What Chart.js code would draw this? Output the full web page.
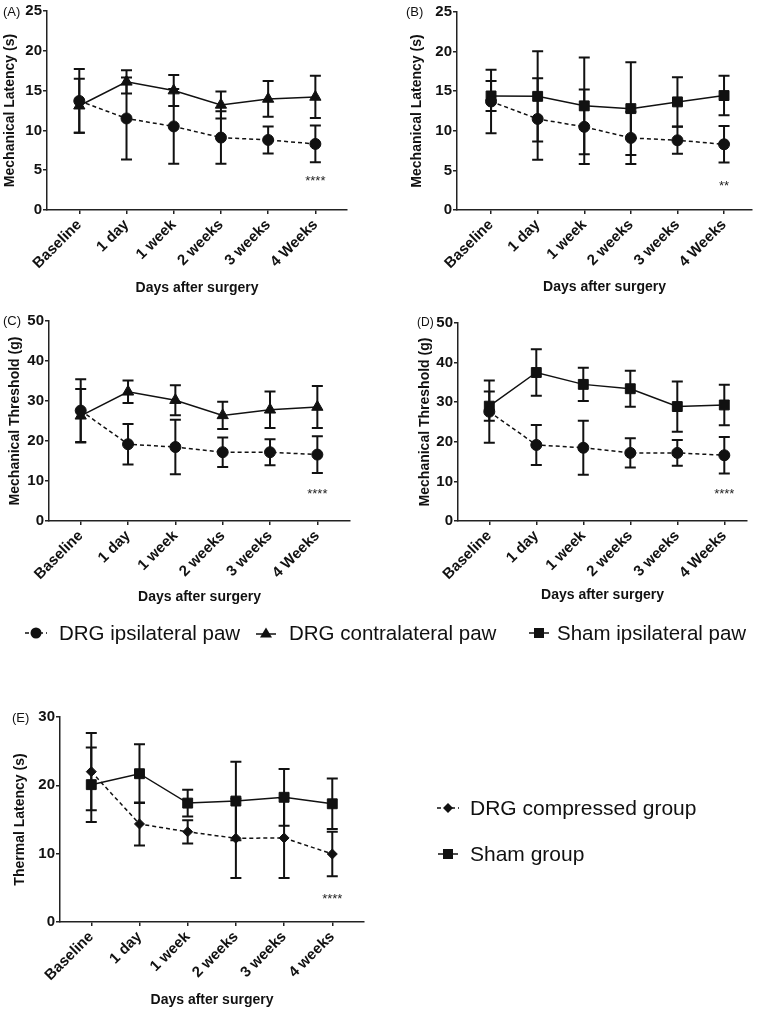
<!DOCTYPE html>
<html>
<head>
<meta charset="utf-8">
<script src="https://cdn.jsdelivr.net/npm/chart.js@4.4.1/dist/chart.umd.min.js"></script>
<style>
body { margin: 0; background: #fff; }
#fig { position: relative; width: 760px; height: 1010px; font-family: "Liberation Sans", Arial, sans-serif; color: #111; overflow: hidden; }
#fig canvas { position: absolute; left: 0; top: 0; }
.tag { position: absolute; font-size: 13px; line-height: 14px; }
.leg { position: absolute; font-size: 20.5px; line-height: 24px; white-space: nowrap; }
.mk { position: absolute; }
</style>
</head>
<body>
<div id="fig">
  <canvas id="cA" width="760" height="1010"></canvas>
  <canvas id="cB" width="760" height="1010"></canvas>
  <canvas id="cC" width="760" height="1010"></canvas>
  <canvas id="cD" width="760" height="1010"></canvas>
  <canvas id="cE" width="760" height="1010"></canvas>

  <div class="tag" style="left:3px;top:5px">(A)</div>
  <div class="tag" style="left:406px;top:5px">(B)</div>
  <div class="tag" style="left:3px;top:314px">(C)</div>
  <div class="tag" style="left:417px;top:315px;font-size:12px">(D)</div>
  <div class="tag" style="left:12px;top:711px">(E)</div>

  <svg class="mk" style="left:24px;top:626px" width="24" height="14"><line x1="1" y1="7" x2="23" y2="7" stroke="#111" stroke-width="1.5" stroke-dasharray="4,3"/><circle cx="12" cy="7" r="5.5" fill="#111"/></svg>
  <div class="leg" style="left:59px;top:621px">DRG ipsilateral paw</div>
  <svg class="mk" style="left:254px;top:626px" width="24" height="14"><line x1="2" y1="8" x2="22" y2="8" stroke="#111" stroke-width="1.5"/><polygon points="12,1.5 18,11.5 6,11.5" fill="#111"/></svg>
  <div class="leg" style="left:289px;top:621px">DRG contralateral paw</div>
  <svg class="mk" style="left:527px;top:626px" width="24" height="14"><line x1="2" y1="7" x2="22" y2="7" stroke="#111" stroke-width="1.5"/><rect x="7" y="2" width="10" height="10" fill="#111"/></svg>
  <div class="leg" style="left:557px;top:621px">Sham ipsilateral paw</div>

  <svg class="mk" style="left:436px;top:801px" width="24" height="14"><line x1="1" y1="7" x2="23" y2="7" stroke="#111" stroke-width="1.5" stroke-dasharray="4,3"/><polygon points="12,2 17,7 12,12 7,7" fill="#111"/></svg>
  <div class="leg" style="left:470px;top:796px;font-size:21px">DRG compressed group</div>
  <svg class="mk" style="left:436px;top:847px" width="24" height="14"><line x1="2" y1="7" x2="22" y2="7" stroke="#111" stroke-width="1.5"/><rect x="7" y="2" width="10" height="10" fill="#111"/></svg>
  <div class="leg" style="left:470px;top:842px;font-size:21px">Sham group</div>
</div>

<script>
const timeLabels = ['Baseline', '1 day', '1 week', '2 weeks', '3 weeks', '4 Weeks'];
const timeLabelsE = ['Baseline', '1 day', '1 week', '2 weeks', '3 weeks', '4 weeks'];

// mechanical latency (s), panels A and B
const latIpsiMean = [13.7, 11.5, 10.5, 9.1, 8.8, 8.3];
const latIpsiSd = [4.0, 5.15, 4.7, 3.3, 1.7, 2.3];
const latContraMean = [13.1, 16.1, 15.0, 13.2, 13.95, 14.2];
const latContraSd = [3.4, 1.45, 1.95, 1.7, 2.25, 2.65];
const latShamMean = [14.4, 14.35, 13.15, 12.8, 13.65, 14.45];
const latShamSd = [1.9, 5.7, 6.1, 5.85, 3.1, 2.5];

// mechanical threshold (g), panels C and D
const thrIpsiMean = [27.6, 19.2, 18.5, 17.2, 17.2, 16.6];
const thrIpsiSd = [7.85, 5.05, 6.8, 3.7, 3.25, 4.6];
const thrContraMean = [26.3, 32.3, 30.2, 26.4, 27.8, 28.5];
const thrContraSd = [6.7, 2.8, 3.75, 3.4, 4.55, 5.25];
const thrShamMean = [29.0, 37.5, 34.5, 33.4, 28.9, 29.3];
const thrShamSd = [3.7, 5.85, 4.2, 4.55, 6.35, 5.1];

// thermal latency (s), panel E
const thermDrgMean = [22.0, 14.35, 13.2, 12.25, 12.3, 9.95];
const thermDrgSd = [5.65, 3.15, 1.7, 5.8, 5.85, 3.25];
const thermShamMean = [20.1, 21.7, 17.4, 17.7, 18.25, 17.3];
const thermShamSd = [5.45, 4.3, 1.95, 5.75, 4.15, 3.7];

// significance marks at 4 weeks
const sigText = ['****', '**', '****', '****', '****'];
const sigValue = [4.0, 3.4, 7.4, 7.7, 3.8];

const INK = '#111';
Chart.defaults.font.family = '"Liberation Sans", Arial, sans-serif';
Chart.defaults.color = INK;

const errorBars = {
    id: 'errorBars',
    beforeDatasetsDraw(chart) {
        const ctx = chart.ctx;
        const y = chart.scales.y;
        ctx.save();
        ctx.strokeStyle = INK;
        ctx.lineWidth = 2;
        chart.data.datasets.forEach((ds, i) => {
            const meta = chart.getDatasetMeta(i);
            ds.means.forEach((m, j) => {
                const px = meta.data[j].x;
                const hi = y.getPixelForValue(m + ds.sd[j]);
                const lo = y.getPixelForValue(m - ds.sd[j]);
                ctx.beginPath();
                ctx.moveTo(px, hi); ctx.lineTo(px, lo);
                ctx.moveTo(px - 5.5, hi); ctx.lineTo(px + 5.5, hi);
                ctx.moveTo(px - 5.5, lo); ctx.lineTo(px + 5.5, lo);
                ctx.stroke();
            });
        });
        ctx.restore();
    }
};

const sigMark = {
    id: 'sigMark',
    afterDatasetsDraw(chart, args, opts) {
        if (!opts.text) return;
        const ctx = chart.ctx;
        const x = chart.scales.x.getPixelForValue(5);
        const y = chart.scales.y.getPixelForValue(opts.value);
        ctx.save();
        ctx.fillStyle = '#222';
        ctx.font = '13px "Liberation Sans", Arial';
        ctx.textAlign = 'center';
        ctx.textBaseline = 'alphabetic';
        ctx.fillText(opts.text, x, y + 7);
        ctx.restore();
    }
};

function series(means, sd, style, radius, dashed) {
    return {
        data: means.map((v, i) => ({ x: i, y: v })),
        means: means,
        sd: sd,
        borderColor: INK,
        backgroundColor: INK,
        borderWidth: 1.5,
        borderDash: dashed ? [4, 3] : [],
        pointStyle: style,
        pointRadius: radius,
        pointBorderWidth: 1,
        pointBackgroundColor: INK,
        pointBorderColor: INK,
        tension: 0,
        fill: false
    };
}

function zeroPad(s) {
    s.paddingLeft = 0; s.paddingRight = 0; s.paddingTop = 0; s.paddingBottom = 0;
}

function makePanel(id, p) {
    const half = 14 * 1.2 / 2;
    const yLeft = p.yTitleX - half;
    const xBottom = p.xTitleY + half;
    new Chart(document.getElementById(id), {
        type: 'line',
        data: { datasets: p.datasets },
        plugins: [errorBars, sigMark],
        options: {
            responsive: false,
            animation: false,
            events: [],
            layout: { padding: { left: yLeft, top: p.T, right: 760 - p.R, bottom: 1010 - xBottom } },
            plugins: {
                legend: { display: false },
                tooltip: { enabled: false },
                sigMark: { text: p.sig, value: p.sigAt }
            },
            scales: {
                x: {
                    type: 'linear',
                    min: p.xMin,
                    max: p.xMax,
                    afterBuildTicks: s => { s.ticks = p.labels.map((_, i) => ({ value: i })); },
                    afterFit: s => { s.height = xBottom - p.B; zeroPad(s); },
                    grid: { drawOnChartArea: false, drawTicks: true, tickLength: 4, color: '#222', lineWidth: 1.5 },
                    border: { color: '#222', width: 1.5 },
                    ticks: {
                        autoSkip: false, minRotation: 45, maxRotation: 45, padding: 2,
                        font: { size: 15, weight: 'bold' },
                        callback: v => p.labels[v]
                    },
                    title: { display: true, text: 'Days after surgery', padding: 0, font: { size: 14, weight: 'bold' } }
                },
                y: {
                    min: 0,
                    max: p.yMax,
                    afterFit: s => { s.width = p.L - yLeft; zeroPad(s); },
                    grid: { drawOnChartArea: false, drawTicks: true, tickLength: 4, color: '#222', lineWidth: 1.5 },
                    border: { color: '#222', width: 1.5 },
                    ticks: { stepSize: p.yStep, padding: 1, font: { size: 15, weight: 'bold' } },
                    title: { display: true, text: p.yTitle, padding: 0, font: { size: 14, weight: 'bold' } }
                }
            }
        }
    });
}

makePanel('cA', {
    labels: timeLabels, yMax: 25, yStep: 5, yTitle: 'Mechanical Latency (s)',
    L: 47, T: 11, R: 347, B: 210, xMin: -0.684, xMax: 5.67, yTitleX: 10, xTitleY: 288,
    sig: sigText[0], sigAt: sigValue[0],
    datasets: [
        series(latIpsiMean, latIpsiSd, 'circle', 5.5, true),
        series(latContraMean, latContraSd, 'triangle', 6.5, false)
    ]
});

makePanel('cB', {
    labels: timeLabels, yMax: 25, yStep: 5, yTitle: 'Mechanical Latency (s)',
    L: 457, T: 12, R: 754, B: 210, xMin: -0.731, xMax: 5.60, yTitleX: 417, xTitleY: 287,
    sig: sigText[1], sigAt: sigValue[1],
    datasets: [
        series(latIpsiMean, latIpsiSd, 'circle', 5.5, true),
        series(latShamMean, latShamSd, 'rect', 7, false)
    ]
});

makePanel('cC', {
    labels: timeLabels, yMax: 50, yStep: 10, yTitle: 'Mechanical Threshold (g)',
    L: 49, T: 321, R: 350, B: 521, xMin: -0.67, xMax: 5.69, yTitleX: 15, xTitleY: 597,
    sig: sigText[2], sigAt: sigValue[2],
    datasets: [
        series(thrIpsiMean, thrIpsiSd, 'circle', 5.5, true),
        series(thrContraMean, thrContraSd, 'triangle', 6.5, false)
    ]
});

makePanel('cD', {
    labels: timeLabels, yMax: 50, yStep: 10, yTitle: 'Mechanical Threshold (g)',
    L: 458, T: 323, R: 747, B: 521, xMin: -0.666, xMax: 5.483, yTitleX: 425, xTitleY: 595,
    sig: sigText[3], sigAt: sigValue[3],
    datasets: [
        series(thrIpsiMean, thrIpsiSd, 'circle', 5.5, true),
        series(thrShamMean, thrShamSd, 'rect', 7, false)
    ]
});

makePanel('cE', {
    labels: timeLabelsE, yMax: 30, yStep: 10, yTitle: 'Thermal Latency (s)',
    L: 60, T: 717, R: 364, B: 922, xMin: -0.649, xMax: 5.658, yTitleX: 20, xTitleY: 1000,
    sig: sigText[4], sigAt: sigValue[4],
    datasets: [
        series(thermDrgMean, thermDrgSd, 'rectRot', 5, true),
        series(thermShamMean, thermShamSd, 'rect', 7, false)
    ]
});
</script>
</body>
</html>
